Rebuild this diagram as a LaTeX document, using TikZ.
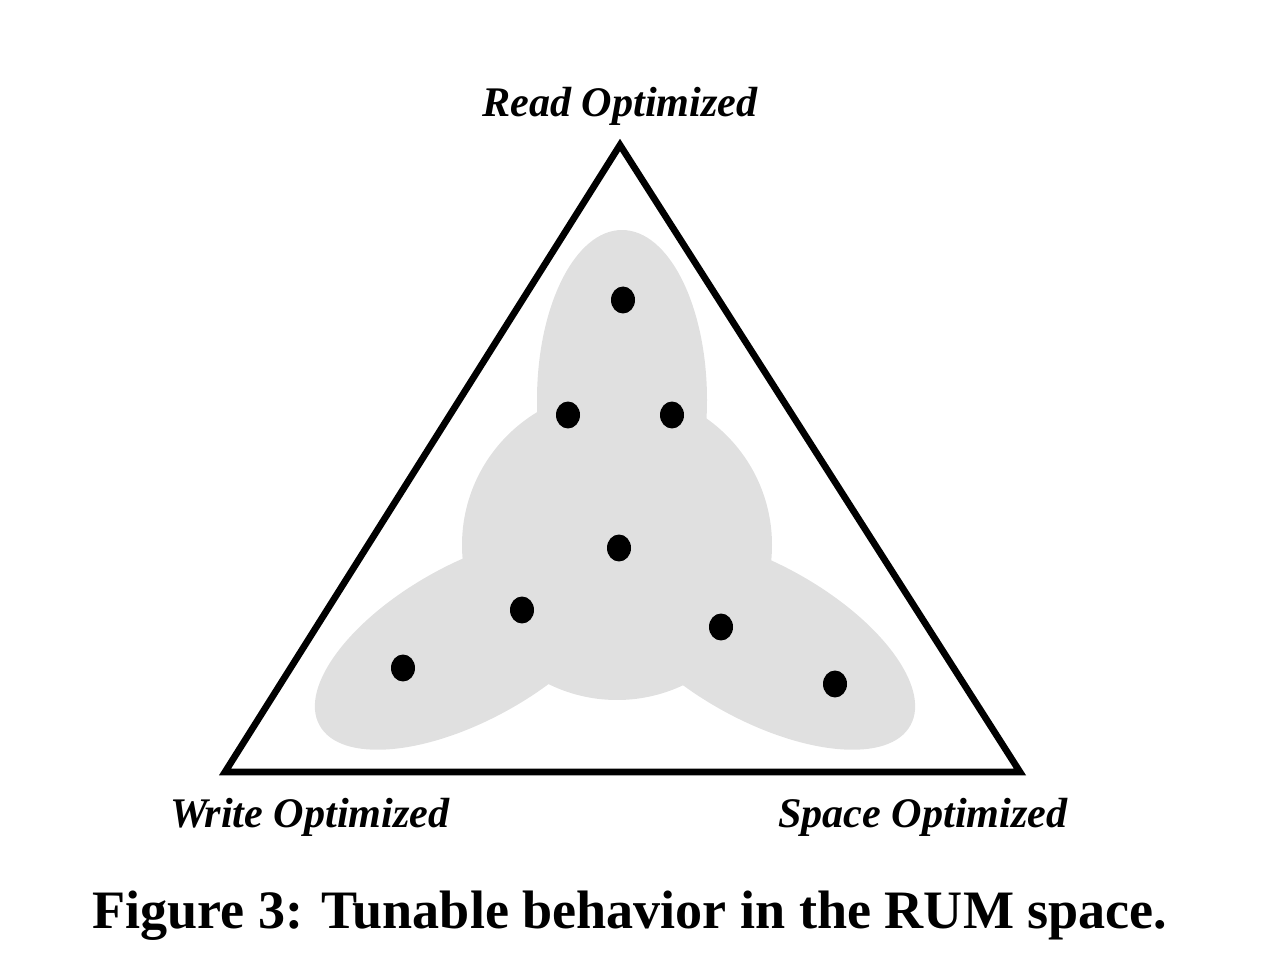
\documentclass[tikz,border=0pt]{standalone}
\usepackage{fontspec}
\setmainfont{Liberation Serif}
\usetikzlibrary{shapes.geometric}
\definecolor{blobgray}{HTML}{E0E0E0}

\begin{document}
\begin{tikzpicture}[x=0.02cm,y=-0.02cm]
    \useasboundingbox (0,0) rectangle (1262,976);

        % the three corners
        \coordinate (r) at (620,145);
        \coordinate (w) at (225,772);
        \coordinate (s) at (1020,772);

        % shaded region
        \begin{scope}[fill=blobgray]
            \fill (622,400) ellipse [x radius=85, y radius=170];
            \fill (617,545) circle [radius=155];
            \fill[rotate around={29:(470,642)}] (470,642) ellipse [x radius=172, y radius=78];
            \fill[rotate around={-29:(760,642)}] (760,642) ellipse [x radius=172, y radius=78];
        \end{scope}

        \draw[line width=3.8pt, line join=miter] (r) -- (w) -- (s) -- cycle;

        \begin{scope}[every node/.style={ellipse,fill=black,inner sep=0pt,minimum width=0.48cm,minimum height=0.54cm}]
            \node (1) at (623,300) {};
            \node (2) at (568,415) {};
            \node (3) at (672,415) {};
            \node (4) at (619,548) {};
            \node (5) at (522,610) {};
            \node (6) at (721,627) {};
            \node (7) at (403,668) {};
            \node (8) at (835,684) {};
        \end{scope}

        \begin{scope}[every node/.style={font=\fontsize{24}{28}\selectfont\bfseries\itshape}]
            \node (read) at (620,106) {Read Optimized};
            \node (write) at (310,817) {Write Optimized};
            \node (space) at (923,817) {Space Optimized};
        \end{scope}

        \node[font=\fontsize{30.8}{36}\selectfont\bfseries] (caption) at (630,916) {Figure 3: Tunable behavior in the RUM space.};

    \end{tikzpicture}
\end{document}
